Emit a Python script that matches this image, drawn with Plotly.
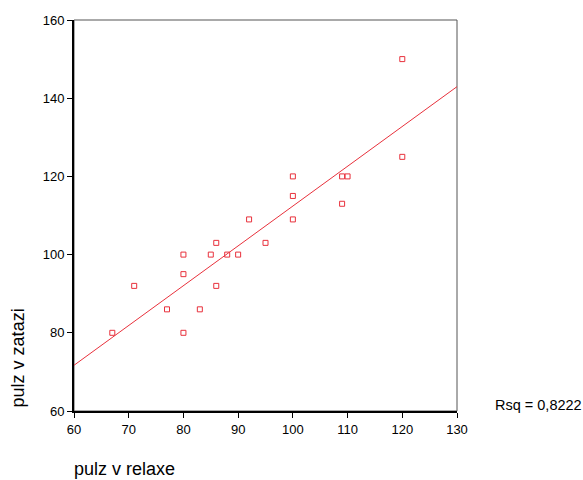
import numpy as np
import plotly.graph_objects as go

relax = [67, 71, 77, 80, 80, 80, 83, 85, 86, 86, 88, 90, 92, 95, 100, 100, 100, 109, 110, 109, 120, 120]
zatez = [80, 92, 86, 100, 95, 80, 86, 100, 103, 92, 100, 100, 109, 103, 120, 115, 109, 120, 120, 113, 150, 125]
x_ticks = [60, 70, 80, 90, 100, 110, 120, 130]
y_ticks = [60, 80, 100, 120, 140, 160]
rsq_label = "Rsq = 0,8222"

red = "#e8313c"
slope, intercept = np.polyfit(relax, zatez, 1)
lx = np.array([60, 130])
ly = slope * lx + intercept

fig = go.Figure()
fig.add_trace(go.Scatter(x=lx, y=ly, mode="lines", line=dict(color=red, width=1), hoverinfo="skip"))
fig.add_trace(go.Scatter(x=relax, y=zatez, mode="markers",
                         marker=dict(symbol="square-open", size=5, color=red, line=dict(width=1, color=red))))

fig.update_layout(
    width=583, height=480,
    margin=dict(l=74, r=126, t=20, b=69),
    plot_bgcolor="white", paper_bgcolor="white",
    showlegend=False,
    font=dict(family="Liberation Sans, Arial, sans-serif", color="black", size=13),
    xaxis=dict(range=[60, 130], tickvals=x_ticks, showgrid=False, zeroline=False,
               showline=True, linewidth=2, linecolor="black", ticks="outside", ticklen=5,
               tickwidth=1, tickcolor="black", tickfont=dict(size=13)),
    yaxis=dict(range=[60, 160], tickvals=y_ticks, showgrid=False, zeroline=False,
               showline=True, linewidth=2, linecolor="black", ticks="outside", ticklen=5,
               tickwidth=1, tickcolor="black", tickfont=dict(size=13)),
    shapes=[dict(type="rect", xref="paper", yref="paper", x0=0, x1=1, y0=0, y1=1,
                 line=dict(color="#555555", width=1), layer="below")],
    annotations=[
        dict(text="pulz v relaxe", xref="paper", yref="paper", x=-0.004, y=-0.149,
             xanchor="left", yanchor="middle", showarrow=False, font=dict(size=18)),
        dict(text="pulz v zatazi", xref="paper", yref="paper", x=-0.146, y=0.003,
             xanchor="center", yanchor="bottom", textangle=-90, showarrow=False, font=dict(size=18)),
        dict(text=rsq_label, xref="paper", yref="paper", x=1.094, y=0.015,
             xanchor="left", yanchor="middle", showarrow=False, font=dict(size=14.5)),
    ],
)
fig.write_html("out.html")
